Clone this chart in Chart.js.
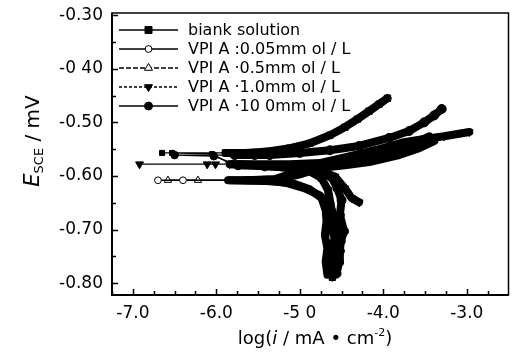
<!DOCTYPE html>
<html>
<head>
<meta charset="utf-8">
<script src="https://cdn.jsdelivr.net/npm/chart.js@4.4.1/dist/chart.umd.min.js"></script>
<style>
html,body{margin:0;padding:0;background:#fff;}
#wrap{position:relative;width:514px;height:358px;}
</style>
</head>
<body>
<div id="wrap"><canvas id="chart"></canvas></div>
<script>
// ---- values: [log(i / mA cm^-2), E_SCE] ----
const seriesLabels = [
  'biank solution',
  'VPI A :0.05mm ol / L',
  'VPI A \u00b70.5mm ol / L',
  'VPI A \u00b71.0mm ol / L',
  'VPI A \u00b710 0mm ol / L'
];

const blankSolution = [
  [-4.61,-0.789],[-4.64,-0.772],[-4.60,-0.753],[-4.63,-0.735],[-4.58,-0.716],[-4.63,-0.697],
  [-4.60,-0.679],[-4.63,-0.654],[-4.66,-0.627],[-4.74,-0.604],[-4.91,-0.589],[-5.18,-0.584],
  [-5.46,-0.580],[-5.82,-0.578],[-6.05,-0.559],[-6.53,-0.557],[-6.65,-0.557],[-5.89,-0.557],
  [-5.66,-0.557],[-5.54,-0.556],[-5.36,-0.554],[-5.12,-0.548],[-4.88,-0.539],[-4.64,-0.524],
  [-4.46,-0.509],[-4.31,-0.494],[-4.17,-0.479],[-4.05,-0.466],[-3.95,-0.455]
];
const vpia005 = [
  [-4.67,-0.784],[-4.69,-0.760],[-4.67,-0.735],[-4.70,-0.710],[-4.68,-0.685],[-4.69,-0.664],
  [-4.74,-0.641],[-4.88,-0.625],[-5.06,-0.615],[-5.30,-0.610],[-5.84,-0.608],[-6.40,-0.608],
  [-6.70,-0.608],[-5.60,-0.608],[-5.24,-0.606],[-5.00,-0.597],[-4.76,-0.585],[-4.46,-0.580],
  [-4.17,-0.574],[-3.81,-0.561],[-3.57,-0.548],[-3.39,-0.535]
];
const vpia05 = [
  [-4.57,-0.745],[-4.55,-0.705],[-4.58,-0.679],[-4.64,-0.654],[-4.76,-0.636],[-4.94,-0.623],
  [-5.18,-0.612],[-5.48,-0.608],[-5.86,-0.608],[-6.22,-0.608],[-6.58,-0.608],[-5.66,-0.608],
  [-5.30,-0.606],[-5.06,-0.593],[-4.76,-0.580],[-4.40,-0.571],[-4.05,-0.561],[-3.75,-0.548],
  [-3.57,-0.535],[-3.45,-0.526]
];
const vpia10 = [
  [-4.29,-0.649],[-4.38,-0.641],[-4.46,-0.623],[-4.58,-0.601],[-4.82,-0.587],[-5.12,-0.582],
  [-5.46,-0.580],[-5.72,-0.578],[-6.01,-0.578],[-6.11,-0.578],[-6.92,-0.578],[-5.84,-0.578],
  [-5.42,-0.578],[-5.12,-0.578],[-4.76,-0.576],[-4.40,-0.563],[-4.05,-0.550],[-3.75,-0.537],
  [-3.51,-0.531],[-3.27,-0.526],[-2.97,-0.518]
];
const vpia100 = [
  [-4.56,-0.782],[-4.53,-0.761],[-4.52,-0.740],[-4.51,-0.722],[-4.47,-0.703],[-4.52,-0.673],
  [-4.50,-0.645],[-4.55,-0.623],[-4.62,-0.602],[-4.82,-0.589],[-5.06,-0.585],[-5.42,-0.582],
  [-5.74,-0.580],[-6.03,-0.563],[-6.50,-0.561],[-5.78,-0.561],[-5.54,-0.561],[-5.36,-0.561],
  [-5.00,-0.557],[-4.64,-0.552],[-4.29,-0.544],[-3.93,-0.529],[-3.69,-0.516],[-3.51,-0.500],
  [-3.39,-0.487],[-3.30,-0.475]
];

const xTickValues = [-7, -6, -5, -4, -3];
const xTickLabels = ['-7.0', '-6.0', '-5 0', '-4.0', '-3.0'];
const yTickValues = [-0.3, -0.4, -0.5, -0.6, -0.7, -0.8];
const yTickLabels = ['-0.30', '-0 40', '-0.50', '-0.60', '-0.70', '-0.80'];

// ---- styling ----
const FONT = "'DejaVu Sans', sans-serif";
const X_RANGE = [-7.25, -2.5];
const Y_RANGE = [-0.822, -0.296];
const DENSE_FROM = -5.95;   // beyond this log(i) the measured points are packed into a thick band
const THIN_W = 1.3, THICK_W = 8;

const styles = [
  {shape: 'rect',     rot: 0,   open: false, dash: [],     r: 3.6},
  {shape: 'circle',   rot: 0,   open: true,  dash: [],     r: 3.4},
  {shape: 'triangle', rot: 0,   open: true,  dash: [5, 2], r: 4.2},
  {shape: 'triangle', rot: 180, open: false, dash: [3, 2], r: 4.6},
  {shape: 'circle',   rot: 0,   open: false, dash: [],     r: 3.8}
];
const seriesData = [blankSolution, vpia005, vpia05, vpia10, vpia100];

const datasets = seriesData.map((d, i) => {
  const s = styles[i];
  return {
    label: seriesLabels[i],
    data: d.map(p => ({x: p[0], y: p[1]})),
    showLine: true,
    borderColor: '#000',
    borderWidth: THIN_W,
    borderCapStyle: 'round',
    borderJoinStyle: 'round',
    pointStyle: s.shape,
    pointRotation: s.rot,
    pointBorderColor: '#000',
    pointBorderWidth: 1,
    pointBackgroundColor: s.open ? '#fff' : '#000',
    pointRadius: c => {
      const x = c.raw ? c.raw.x : 0;
      if (x < DENSE_FROM) return s.r;
      return s.open ? 0 : 4.5;
    },
    pointHoverRadius: 0,
    segment: {
      borderWidth: c => {
        const dd = c.chart.data.datasets[c.datasetIndex].data;
        return (dd[c.p0DataIndex].x > DENSE_FROM && dd[c.p1DataIndex].x > DENSE_FROM) ? THICK_W : THIN_W;
      }
    }
  };
});

function drawMarker(ctx, s, x, y) {
  ctx.save();
  ctx.fillStyle = s.open ? '#fff' : '#000';
  ctx.strokeStyle = '#000';
  ctx.lineWidth = 1;
  ctx.beginPath();
  if (s.shape === 'rect') {
    ctx.rect(x - 3.5, y - 3.5, 7, 7);
  } else if (s.shape === 'circle') {
    ctx.arc(x, y, s.open ? 3.4 : 4, 0, Math.PI * 2);
  } else {
    const r = 4.6, dir = s.rot === 180 ? -1 : 1;
    ctx.moveTo(x, y - dir * r);
    ctx.lineTo(x + r * 0.866, y + dir * r / 2);
    ctx.lineTo(x - r * 0.866, y + dir * r / 2);
    ctx.closePath();
  }
  ctx.fill();
  ctx.stroke();
  ctx.restore();
}

const legendPlugin = {
  id: 'lineLegend',
  afterDraw(chart) {
    const ctx = chart.ctx;
    const x0 = 119, x1 = 178, tx = 188, y0 = 30, dy = 19;
    ctx.save();
    chart.data.datasets.forEach((ds, i) => {
      const s = styles[i];
      const y = y0 + i * dy;
      ctx.strokeStyle = '#000';
      ctx.lineWidth = 1.3;
      ctx.setLineDash(s.dash);
      ctx.beginPath(); ctx.moveTo(x0, y); ctx.lineTo(x1, y); ctx.stroke();
      ctx.setLineDash([]);
      drawMarker(ctx, s, (x0 + x1) / 2, y);
      ctx.fillStyle = '#000';
      ctx.font = '16px ' + FONT;
      ctx.textAlign = 'left';
      ctx.textBaseline = 'middle';
      ctx.fillText(ds.label, tx, y + 1);
    });
    ctx.restore();
  }
};

const framePlugin = {
  id: 'frame',
  afterDraw(chart) {
    const {ctx, chartArea: a, scales: {x, y}} = chart;
    ctx.save();
    ctx.strokeStyle = '#000';
    ctx.lineWidth = 1.5;
    ctx.strokeRect(a.left, a.top, a.right - a.left, a.bottom - a.top);
    ctx.lineWidth = 2;
    ctx.beginPath();
    ctx.moveTo(a.left, a.top); ctx.lineTo(a.left, a.bottom); ctx.lineTo(a.right, a.bottom);
    ctx.stroke();
    ctx.lineWidth = 1.5;
    ctx.beginPath();
    for (let k = Math.ceil(x.min / 0.25); k * 0.25 < x.max - 1e-6; k++) {
      const v = k * 0.25;
      const px = Math.round(x.getPixelForValue(v)) + 0.5;
      const len = (k % 4 === 0) ? 6 : 4;
      ctx.moveTo(px, a.bottom); ctx.lineTo(px, a.bottom - len);
    }
    for (let k = Math.ceil(y.min / 0.05 - 1e-6); k * 0.05 <= y.max + 1e-6; k++) {
      const v = k * 0.05;
      const py = Math.round(y.getPixelForValue(v)) + 0.5;
      const len = (k % 2 === 0) ? 6 : 4;
      ctx.moveTo(a.left, py); ctx.lineTo(a.left + len, py);
    }
    ctx.stroke();
    ctx.restore();
  }
};

function drawRuns(ctx, runs, cx, baseY) {
  let total = 0;
  runs.forEach(r => { ctx.font = r.f; total += ctx.measureText(r.t).width; });
  let xx = cx - total / 2;
  runs.forEach(r => {
    ctx.font = r.f;
    ctx.fillText(r.t, xx, baseY + (r.dy || 0));
    xx += ctx.measureText(r.t).width;
  });
}

const titlePlugin = {
  id: 'axisTitles',
  afterDraw(chart) {
    const ctx = chart.ctx;
    ctx.save();
    ctx.fillStyle = '#000';
    ctx.textAlign = 'left';
    ctx.textBaseline = 'alphabetic';
    drawRuns(ctx, [
      {t: 'log(', f: '18px ' + FONT},
      {t: 'i', f: 'italic 18px ' + FONT},
      {t: ' / mA \u2022 cm', f: '18px ' + FONT},
      {t: '-2', f: '11px ' + FONT, dy: -8},
      {t: ')', f: '18px ' + FONT}
    ], 315, 344);
    ctx.translate(39, 141);
    ctx.rotate(-Math.PI / 2);
    drawRuns(ctx, [
      {t: 'E', f: 'italic 21px ' + FONT},
      {t: 'SCE', f: '13px ' + FONT, dy: 4},
      {t: ' / mV', f: '20px ' + FONT}
    ], 0, 0);
    ctx.restore();
  }
};

const noOverhang = sc => { sc.paddingTop = 0; sc.paddingBottom = 0; sc.paddingLeft = 0; sc.paddingRight = 0; };

new Chart(document.getElementById('chart'), {
  type: 'scatter',
  data: {datasets},
  options: {
    responsive: true,
    maintainAspectRatio: false,
    animation: false,
    layout: {padding: {left: 0, right: 5, top: 13, bottom: 0}},
    plugins: {legend: {display: false}, tooltip: {enabled: false}},
    scales: {
      x: {
        type: 'linear', min: X_RANGE[0], max: X_RANGE[1],
        afterBuildTicks: sc => { sc.ticks = xTickValues.map(v => ({value: v})); },
        afterFit: sc => { sc.height = 63; noOverhang(sc); },
        grid: {display: false, drawTicks: false},
        border: {display: false},
        ticks: {
          font: {family: FONT, size: 17}, color: '#000', padding: 8,
          maxRotation: 0, autoSkip: false,
          callback: v => { const k = xTickValues.findIndex(t => Math.abs(t - v) < 1e-9); return k >= 0 ? xTickLabels[k] : ''; }
        }
      },
      y: {
        type: 'linear', min: Y_RANGE[0], max: Y_RANGE[1],
        afterBuildTicks: sc => { sc.ticks = yTickValues.map(v => ({value: v})); },
        afterFit: sc => { sc.width = 112; noOverhang(sc); },
        grid: {display: false, drawTicks: false},
        border: {display: false},
        ticks: {
          font: {family: FONT, size: 17}, color: '#000', padding: 9, autoSkip: false,
          callback: v => { const k = yTickValues.findIndex(t => Math.abs(t - v) < 1e-9); return k >= 0 ? yTickLabels[k] : ''; }
        }
      }
    }
  },
  plugins: [framePlugin, legendPlugin, titlePlugin]
});
</script>
</body>
</html>
